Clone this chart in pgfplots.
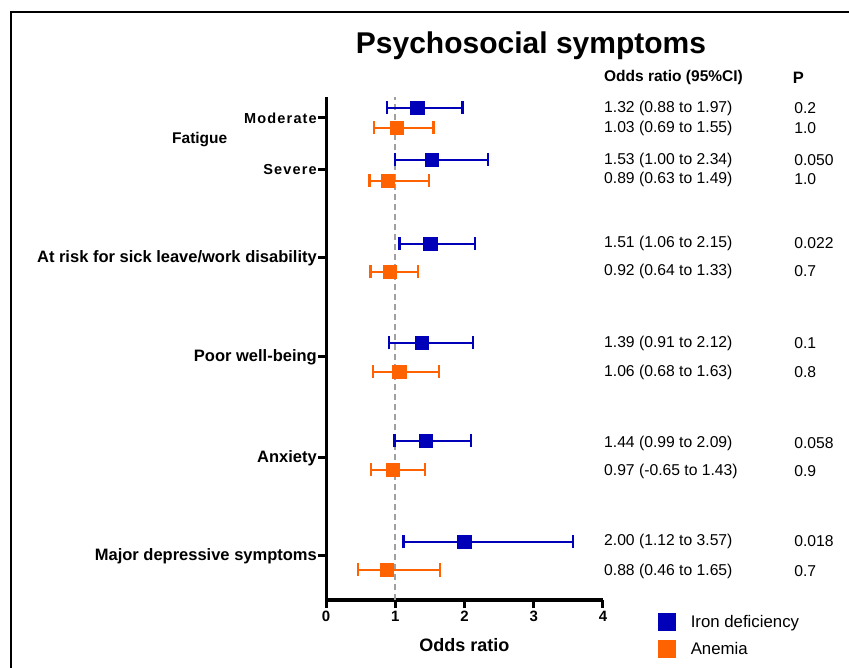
\documentclass[border=0pt]{standalone}
\usepackage{fontspec}
\setmainfont{Liberation Sans}
\usepackage{pgfplots}
\pgfplotsset{compat=1.18}
\usepackage{pgfplotstable}
\definecolor{idblue}{RGB}{0,0,185}
\definecolor{anorange}{RGB}{255,98,0}
\definecolor{refgray}{RGB}{160,160,160}

\pgfplotstableread{
y or em ep
492 1.32 0.44 0.65
440 1.53 0.53 0.81
356 1.51 0.45 0.64
257 1.39 0.48 0.73
159 1.44 0.45 0.65
58 2.00 0.88 1.57
}\iddata
\pgfplotstableread{
y or em ep
472 1.03 0.34 0.52
419 0.89 0.26 0.60
328 0.92 0.28 0.41
228 1.06 0.38 0.57
130 0.97 0.32 0.46
30 0.88 0.42 0.77
}\andata

\newcommand{\lsp}{\fontsize{14.5bp}{17bp}\selectfont\addfontfeature{LetterSpace=8}}
\tikzset{cibar/.style={line width=2.6bp}}

\begin{document}
\begin{tikzpicture}
\useasboundingbox (0,0) rectangle (849bp,668bp);
\draw[line width=1.5bp] (11bp,0) -- (11bp,656bp) -- (849bp,656bp);
\node[font=\fontsize{30bp}{36bp}\selectfont\bfseries] at (531bp,622bp) {Psychosocial symptoms};
\begin{axis}[
  at={(326bp,68bp)}, anchor=south west,
  scale only axis, width=277bp, height=503bp,
  xmin=0, xmax=4, ymin=0, ymax=503,
  clip=false,
  axis x line*=bottom, axis y line*=left,
  axis line style={line width=3bp, -},
  xtick={0,1,2,3,4},
  ytick={482,430,342,243,142,44},
  yticklabels={{\lsp Moderate},{\lsp Severe},At risk for sick leave/work disability,Poor well-being,Anxiety,Major depressive symptoms},
  tick style={line width=3bp, black},
  major tick length=8bp,
  tick align=outside,
  /pgf/number format/assume math mode=true,
  xticklabel style={font=\fontsize{15bp}{18bp}\selectfont\bfseries},
  yticklabel style={font=\fontsize{16.5bp}{20bp}\selectfont\bfseries, inner sep=1bp},
  xlabel={Odds ratio},
  xlabel style={at={(axis description cs:0.5,0)}, anchor=center, yshift=-45bp, font=\fontsize{18bp}{22bp}\selectfont\bfseries},
  legend style={draw=none, fill=none, at={(axis description cs:1.197,-0.026)}, anchor=north west,
    font=\fontsize{16.8bp}{20bp}\selectfont, row sep=9bp, inner sep=0pt},
  legend cell align=left,
]
\addplot[refgray, line width=2.2bp, dash pattern=on 6bp off 4bp, forget plot] coordinates {(1,0) (1,503)};
\addplot[only marks, mark=square*, mark size=6bp, color=idblue, line width=2.2bp, forget plot,
  error bars/.cd, x dir=both, x explicit,
  error bar style={idblue, solid, line width=2.6bp},
  error mark options={rotate=90, line width=2.4bp, mark size=6.5bp}]
  table[x=or, y=y, x error plus=ep, x error minus=em]{\iddata};
\addplot[only marks, mark=square*, mark size=6bp, color=anorange, line width=2.2bp, forget plot,
  error bars/.cd, x dir=both, x explicit,
  error bar style={anorange, solid, line width=2.6bp},
  error mark options={rotate=90, line width=2.4bp, mark size=6.5bp}]
  table[x=or, y=y, x error plus=ep, x error minus=em]{\andata};
\addlegendimage{only marks, mark=square*, mark size=8.5bp, idblue}
\addlegendentry{\hspace{14bp}Iron deficiency}
\addlegendimage{only marks, mark=square*, mark size=8.5bp, anorange}
\addlegendentry{\hspace{14bp}Anemia}

\node[anchor=west, inner sep=0pt, font=\fontsize{15.5bp}{18bp}\selectfont\bfseries] at (axis cs:-2.224,460) {Fatigue};
\begin{scope}[every node/.style={anchor=west, inner sep=0pt, font=\fontsize{15.7bp}{19bp}\selectfont}]
\node[font=\fontsize{15.5bp}{18bp}\selectfont\bfseries] at (axis cs:4.014,522) {Odds ratio (95\%CI)};
\node[font=\fontsize{16.5bp}{19bp}\selectfont\bfseries] at (axis cs:6.74,522) {P};
\node at (axis cs:4.014,492) {1.32 (0.88 to 1.97)};
\node at (axis cs:4.014,472) {1.03 (0.69 to 1.55)};
\node at (axis cs:4.014,440) {1.53 (1.00 to 2.34)};
\node at (axis cs:4.014,421) {0.89 (0.63 to 1.49)};
\node at (axis cs:4.014,357) {1.51 (1.06 to 2.15)};
\node at (axis cs:4.014,329) {0.92 (0.64 to 1.33)};
\node at (axis cs:4.014,257) {1.39 (0.91 to 2.12)};
\node at (axis cs:4.014,228) {1.06 (0.68 to 1.63)};
\node at (axis cs:4.014,157) {1.44 (0.99 to 2.09)};
\node at (axis cs:4.014,129) {0.97 (-0.65 to 1.43)};
\node at (axis cs:4.014,59) {2.00 (1.12 to 3.57)};
\node at (axis cs:4.014,29) {0.88 (0.46 to 1.65)};
\node at (axis cs:6.76,492) {0.2};
\node at (axis cs:6.76,472) {1.0};
\node at (axis cs:6.76,440) {0.050};
\node at (axis cs:6.76,421) {1.0};
\node at (axis cs:6.76,357) {0.022};
\node at (axis cs:6.76,329) {0.7};
\node at (axis cs:6.76,257) {0.1};
\node at (axis cs:6.76,228) {0.8};
\node at (axis cs:6.76,157) {0.058};
\node at (axis cs:6.76,129) {0.9};
\node at (axis cs:6.76,59) {0.018};
\node at (axis cs:6.76,29) {0.7};
\end{scope}
\end{axis}
\end{tikzpicture}
\end{document}
